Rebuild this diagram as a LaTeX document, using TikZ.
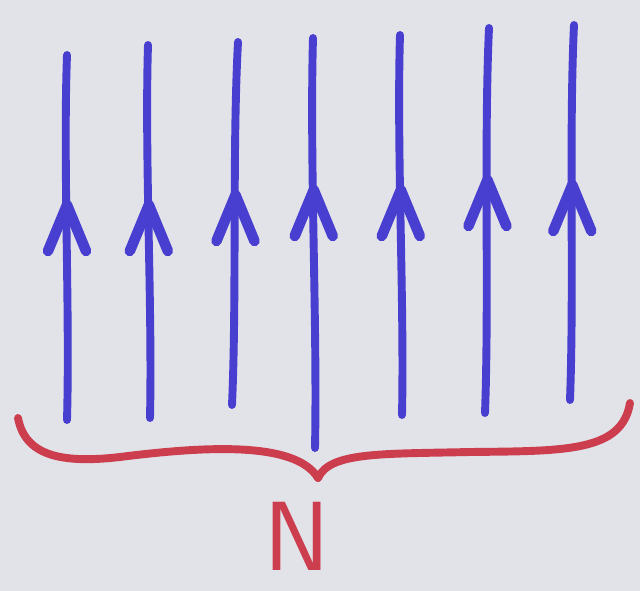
\documentclass[tikz,border=0pt]{standalone}
\usepackage{tikz}
\usetikzlibrary{positioning, calc}
\definecolor{bluspin}{RGB}{72,62,208}
\definecolor{rossograffa}{RGB}{204,62,78}
\definecolor{sfondo}{RGB}{226,226,233}
\tikzset{
    spin/.style={bluspin, line width=4.5pt, line cap=round, line join=round},
    testa/.style={bluspin, line width=6pt, line cap=round, line join=round},
    graffa/.style={rossograffa, line width=4.5pt, line cap=round, line join=round}
}

\begin{document}
\begin{tikzpicture}[x=0.02cm, y=-0.02cm]
        %disegno sfondo
        \fill[sfondo] (0,0) rectangle (640,591);
        \useasboundingbox (0,0) rectangle (640,591);
        %disegno frecce blu (x alto, y alto, x basso, y basso, y punta)
        \foreach \xa/\ya/\xb/\yb/\yp [count=\i] in {67/55/67/420/205, 148/45/150/418/205, 238/42/232/405/195, 313/38/315/448/190, 400/35/402/415/190, 489/28/485/413/180, 574/25/570/400/185}{
            \coordinate (alto\i) at (\xa,\ya);
            \coordinate (basso\i) at (\xb,\yb);
            \draw[spin] (alto\i) .. controls ($(alto\i)!0.3!(basso\i)+(-4,0)$) and ($(alto\i)!0.7!(basso\i)+(3,0)$) .. (basso\i);
            \draw[testa] ($(alto\i)!{(\yp-\ya)/(\yb-\ya)}!(basso\i)+(-19,46)$) -- ($(alto\i)!{(\yp-\ya)/(\yb-\ya)}!(basso\i)$) -- ++(19,46);
        }
        %disegno graffa rossa
        \coordinate (sx) at (18,418);
        \coordinate (punta) at (318,478);
        \coordinate (dx) at (630,403);
        \draw[graffa] (sx) .. controls (25,455) and (60,464) .. (120,457) .. controls (200,447) and (295,440) .. (punta);
        \draw[graffa] (punta) .. controls (330,452) and (380,454) .. (470,452) .. controls (565,451) and (622,452) .. (dx);
        %disegno etichetta
        \node[rossograffa, font=\sffamily\fontsize{56pt}{56pt}\selectfont, inner sep=0pt] (enne) at (297,536) {N};
    \end{tikzpicture}
\end{document}
